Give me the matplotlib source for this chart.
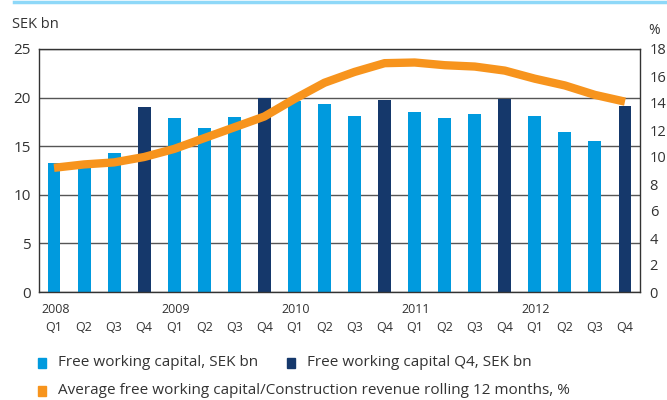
import matplotlib
matplotlib.use("Agg")
import matplotlib.pyplot as plt
from matplotlib.patches import Rectangle
from matplotlib.lines import Line2D
import numpy as np

# Data
quarters = ["Q1", "Q2", "Q3", "Q4"] * 5
years = ["2008", "2009", "2010", "2011", "2012"]
capital = [13.3, 13.0, 14.3, 19.0, 17.9, 16.9, 18.0, 20.0, 19.6, 19.3,
           18.1, 19.8, 18.5, 17.9, 18.3, 19.9, 18.1, 16.5, 15.5, 19.1]
ratio = [9.2, 9.45, 9.6, 10.0, 10.6, 11.4, 12.2, 13.0, 14.3, 15.5,
         16.3, 16.95, 17.0, 16.8, 16.7, 16.4, 15.8, 15.3, 14.6, 14.1]

light_blue = "#009ADE"
dark_blue = "#15386B"
orange = "#F7941D"
grid_col = "#555555"
text_col = "#333333"

plt.rcParams["font.family"] = ["Open Sans", "DejaVu Sans"]

fig = plt.figure(figsize=(6.67, 4.0), dpi=100)
ax = fig.add_axes([39 / 667, 108 / 400, 601 / 667, 243 / 400])

x = np.arange(len(capital))
colors = [dark_blue if q == "Q4" else light_blue for q in quarters]
ax.bar(x, capital, width=0.43, color=colors, zorder=2)

ax.set_xlim(-0.5, len(capital) - 0.5)
ax.set_ylim(0, 25)
ax.set_yticks(range(0, 26, 5))
ax.yaxis.grid(True, color=grid_col, linewidth=1.0, zorder=1)
ax.set_axisbelow(True)
ax.tick_params(axis="both", length=0, labelsize=11, colors=text_col, pad=6)
ax.set_xticks([])
for s in ax.spines.values():
    s.set_color(text_col)
    s.set_linewidth(1.0)

ax2 = ax.twinx()
ax2.plot(x, ratio, color=orange, linewidth=6, solid_capstyle="butt", zorder=3)
ax2.set_ylim(0, 18)
ax2.set_yticks(range(0, 19, 2))
ax2.tick_params(axis="y", length=0, labelsize=10.5, colors=text_col, pad=7)
for s in ax2.spines.values():
    s.set_visible(False)

# x labels: quarters and years
for i, q in enumerate(quarters):
    ax.text(i, -0.148, q, transform=ax.get_xaxis_transform(), ha="center",
            va="center", fontsize=9, color=text_col)
for j, yr in enumerate(years):
    ax.text(j * 4 - 0.43, -0.074, yr, transform=ax.get_xaxis_transform(),
            ha="left", va="center", fontsize=9, color=text_col)

fig.text(12 / 667, 1 - 25 / 400, "SEK bn", fontsize=10.5, color=text_col, va="center")
fig.text(648 / 667, 1 - 30 / 400, "%", fontsize=10, color=text_col, va="center")

# top rule
fig.add_artist(Line2D([14 / 667, 665 / 667], [1 - 2 / 400, 1 - 2 / 400],
                      color="#8ED8F8", linewidth=2.5))

# legend
legend_items = [
    (38, 363, light_blue, "Free working capital, SEK bn"),
    (287, 363, dark_blue, "Free working capital Q4, SEK bn"),
    (38, 391, orange, "Average free working capital/Construction revenue rolling 12 months, %"),
]
for lx, ly, c, label in legend_items:
    fig.add_artist(Rectangle((lx / 667, 1 - (ly + 5) / 400), 8 / 667, 10 / 400,
                             transform=fig.transFigure, color=c))
    fig.text((lx + 20) / 667, 1 - ly / 400, label, fontsize=11,
             color=text_col, va="center")

fig.savefig("out.png", dpi=100)
